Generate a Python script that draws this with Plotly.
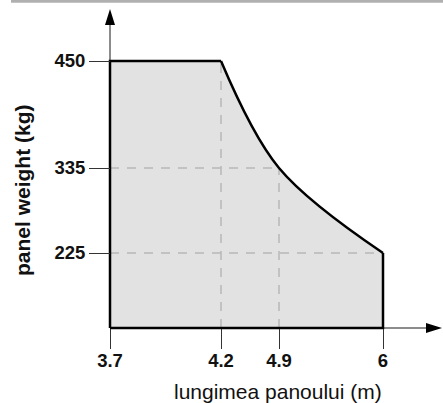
import numpy as np
import plotly.graph_objects as go

# ---------------- data ----------------
lengths = [3.7, 4.2, 4.9, 6.0]            # panel length (m)
length_labels = ["3.7", "4.2", "4.9", "6"]
weights = [450, 450, 335, 225]            # max panel weight (kg) at each length
weight_ticks = [225, 335, 450]
weight_labels = ["225", "335", "450"]

# -------- schematic (non-linear) axis layout --------
# offset (px) of each tick from the axis origin
x_pos = [0, 111, 169, 273]
y_pos = [75, 160, 267]

def sx(v):
    return np.interp(v, lengths, x_pos)

def sy(v):
    return np.interp(v, weight_ticks, y_pos)

W, H = 443, 403
L, R, T, B = 95, 443, 8, 345          # plot area in px
OX, OY = 110, 328                     # axis origin in px
x_range = [L - OX, R - OX]
y_range = [OY - B, OY - T]

def px_x(p):
    return (p - L) / (R - L)

def px_y(p):
    return (B - p) / (B - T)

FILL = "#e2e2e2"
DASH = "#b8b8b8"
FONT = "Liberation Sans, Arial, Helvetica, sans-serif"

fig = go.Figure()

# filled region
fig.add_trace(go.Scatter(x=sx(lengths[:2]), y=sy(weights[:2]), mode="lines",
                         line=dict(width=0), fill="tozeroy", fillcolor=FILL,
                         hoverinfo="skip"))
fig.add_trace(go.Scatter(x=sx(lengths[1:]), y=sy(weights[1:]), mode="lines",
                         line=dict(width=0, shape="spline", smoothing=1),
                         fill="tozeroy", fillcolor=FILL, hoverinfo="skip"))

# dashed guide lines
dx, dy = [], []
for i in (1, 2):
    dx += [sx(lengths[i]), sx(lengths[i]), None]
    dy += [0, sy(weights[i]), None]
for i in (2, 3):
    dx += [sx(lengths[0]), sx(lengths[i]), None]
    dy += [sy(weights[i]), sy(weights[i]), None]
fig.add_trace(go.Scatter(x=dx, y=dy, mode="lines",
                         line=dict(color=DASH, width=1.5, dash="9px,8px"),
                         hoverinfo="skip"))

# outline
OUT = dict(color="black", width=2.5)
fig.add_trace(go.Scatter(x=[sx(lengths[0]), sx(lengths[0]), sx(lengths[1])],
                         y=[0, sy(weights[0]), sy(weights[1])],
                         mode="lines", line=OUT, hoverinfo="skip"))
fig.add_trace(go.Scatter(x=sx(lengths[1:]), y=sy(weights[1:]), mode="lines",
                         line=dict(color="black", width=2.5, shape="spline",
                                   smoothing=1), hoverinfo="skip"))
fig.add_trace(go.Scatter(x=[sx(lengths[3]), sx(lengths[3]), sx(lengths[0])],
                         y=[sy(weights[3]), 0, 0],
                         mode="lines", line=OUT, hoverinfo="skip"))

AX = "#666666"
shapes = [
    # axis lines
    dict(type="line", xref="x", yref="y", x0=0, y0=0, x1=0, y1=y_range[1] - 16,
         line=dict(color=AX, width=1.5), layer="below"),
    dict(type="line", xref="x", yref="y", x0=0, y0=0, x1=x_range[1] - 16, y1=0,
         line=dict(color=AX, width=1.5), layer="below"),
    # arrow heads
    dict(type="path", xref="x", yref="y",
         path=f"M -5,{y_range[1]-17} L 5,{y_range[1]-17} L 0,{y_range[1]-1} Z",
         fillcolor="black", line=dict(width=0)),
    dict(type="path", xref="x", yref="y",
         path=f"M {x_range[1]-17},-5 L {x_range[1]-17},5 L {x_range[1]-1},0 Z",
         fillcolor="black", line=dict(width=0)),
    # top rule
    dict(type="line", xref="paper", yref="paper", x0=px_x(11), x1=px_x(W + 2),
         y0=px_y(1.3), y1=px_y(1.3), line=dict(color="#b0b0b0", width=3)),
]

annotations = [
    dict(text="lungimea panoului (m)", xref="paper", yref="paper",
         x=px_x(278), y=px_y(391), xanchor="center", yanchor="middle",
         showarrow=False, font=dict(family=FONT, size=21, color="#111")),
    dict(text="panel weight (kg)", xref="paper", yref="paper",
         x=px_x(22), y=px_y(190), xanchor="center", yanchor="middle",
         textangle=-90, showarrow=False,
         font=dict(family=FONT, size=21, color="#111", weight="bold")),
]

tickfont = dict(family=FONT, size=18.5, color="#111", weight="bold")

fig.update_layout(
    width=W, height=H,
    margin=dict(l=L, r=W - R, t=T, b=H - B, pad=0),
    paper_bgcolor="white", plot_bgcolor="white",
    showlegend=False,
    shapes=shapes, annotations=annotations,
    xaxis=dict(range=x_range, showgrid=False, zeroline=False, showline=False,
               tickmode="array", tickvals=[sx(v) for v in lengths],
               ticktext=length_labels, ticks="outside", ticklen=20,
               tickwidth=1.2, tickcolor="#333", tickfont=tickfont,
               ticklabelstandoff=-4,
               anchor="free", position=px_y(OY), fixedrange=True),
    yaxis=dict(range=y_range, showgrid=False, zeroline=False, showline=False,
               tickmode="array", tickvals=[sy(v) for v in weight_ticks],
               ticktext=weight_labels, ticks="outside", ticklen=21,
               tickwidth=1.2, tickcolor="#333", tickfont=tickfont,
               anchor="free", position=px_x(OX), fixedrange=True),
)

fig.write_html("out.html", config={"displayModeBar": False},
               post_script="document.body.style.margin='0';"
                           "document.body.style.overflow='hidden';")
